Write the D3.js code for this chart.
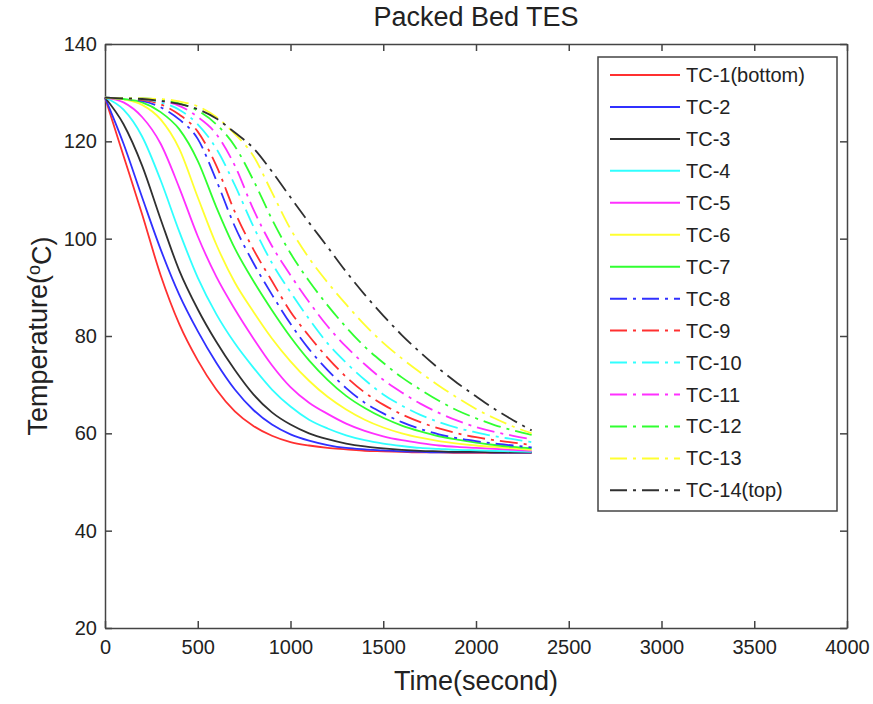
<!DOCTYPE html>
<html>
<head>
<meta charset="utf-8">
<script src="https://cdn.jsdelivr.net/npm/d3@7"></script>
<style>
  body { margin: 0; background: #fff; }
  text { font-family: "Liberation Sans", Arial, sans-serif; fill: #222; }
  .axis path, .axis line { stroke: #444; stroke-width: 1.5; }
</style>
</head>
<body>
<div class="canvas"></div>
<script>
// time samples (s)
const times = [0,100,200,300,400,500,600,700,800,900,1000,1100,1200,1300,1400,1500,1600,1700,1800,1900,2000,2100,2200,2300]

// thermocouple readings (deg C), bottom to top
const tc1  = [129,117,105,92.5,82.5,75,69,64.5,61.5,59.5,58.2,57.5,57,56.7,56.4,56.3,56.2,56.1,56.1,56,56,56,56,56]
const tc2  = [129,119.5,108.5,97.8,88.5,81,74.5,69,64.8,61.8,59.8,58.5,57.6,57,56.7,56.5,56.3,56.2,56.1,56.1,56.1,56.05,56.05,56.05]
const tc3  = [129,123.5,115,104,93.5,85.5,78.8,73,68,64.3,61.8,60,58.8,57.9,57.3,56.9,56.6,56.4,56.3,56.2,56.2,56.1,56.1,56.1]
const tc4  = [129,126.5,121,112,101.5,92,84.5,78.5,73.5,69,65.5,62.8,61,59.6,58.6,57.9,57.4,57,56.8,56.6,56.5,56.4,56.3,56.2]
const tc5  = [129,128,125,119.5,110.5,100.5,92.2,85.5,79.5,74,69.5,66.3,64,62,60.5,59.4,58.6,58,57.5,57.2,57,56.8,56.6,56.4]
const tc6  = [129,128.6,127.5,124.5,118.5,108.5,98.8,91,85,79.5,74.8,70.8,67.5,64.9,62.8,61.2,60,59.1,58.4,57.9,57.5,57.2,56.9,56.6]
const tc7  = [129,128.7,128,126,122.5,116,106.5,98,91.3,85.3,79.8,75,71,67.7,65.2,63.2,61.6,60.4,59.4,58.7,58.1,57.6,57.2,56.9]
const tc8  = [129,128.8,128.3,127,124.5,120.5,112,102.5,95,88.5,82.5,77.3,73,69.3,66.3,64.1,62.3,60.9,59.8,59,58.4,57.9,57.5,57.1]
const tc9  = [129,128.8,128.5,127.6,125.5,122,115,105.5,97.8,91.3,85,80,75.5,71.6,68.4,65.9,63.9,62.3,61,60,59.2,58.6,58.1,57.6]
const tc10 = [129,128.8,128.7,128,126.5,123.5,118.5,111,102.5,95,89,83.5,78.5,74.5,71,68,65.7,63.8,62.3,61.1,60.2,59.4,58.8,58.2]
const tc11 = [129,128.8,128.8,128.3,127.3,125,121.5,115,106,98.5,92.5,87,82,77.8,74.2,71,68.4,66.1,64.2,62.6,61.3,60.3,59.5,58.8]
const tc12 = [129,128.8,128.8,128.6,127.8,126.3,123.5,119,112,104,97,91.3,86.3,81.8,77.8,74.5,71.5,69,66.7,64.7,63.1,61.7,60.6,59.7]
const tc13 = [129,128.8,128.8,128.7,128.2,127.2,125,121.5,117,109.5,102,96,91,86.5,82.3,78.6,75.4,72.5,69.8,67.3,65,63.1,61.4,60]
const tc14 = [129,128.8,128.7,128.3,127.7,126.6,124.7,121.8,118.6,113.8,108.5,103.3,98.3,93.2,88.5,84.2,80.2,76.6,73.3,70.3,67.6,65,62.7,60.6]

const seriesNames = ["TC-1(bottom)","TC-2","TC-3","TC-4","TC-5","TC-6","TC-7","TC-8","TC-9","TC-10","TC-11","TC-12","TC-13","TC-14(top)"]
const xTicks = [0,500,1000,1500,2000,2500,3000,3500,4000]
const yTicks = [20,40,60,80,100,120,140]

// styles
const colors = ["#ff3030","#3030ff","#303030","#30ffff","#ff30ff","#ffff30","#30ff30",
                "#3030ff","#ff3030","#30ffff","#ff30ff","#30ff30","#ffff30","#303030"]
const dashed = [false,false,false,false,false,false,false,true,true,true,true,true,true,true]

const allTemps = [tc1,tc2,tc3,tc4,tc5,tc6,tc7,tc8,tc9,tc10,tc11,tc12,tc13,tc14]
const data = seriesNames.map((name, i) => ({
    name: name,
    color: colors[i],
    dashed: dashed[i],
    values: times.map((t, j) => ({t: t, temp: allTemps[i][j]}))
}))

const width = 873, height = 704
const margin = {top: 44, right: 26, bottom: 76, left: 105}
const graphWidth = width - margin.left - margin.right
const graphHeight = height - margin.top - margin.bottom

const svg = d3.select(".canvas")
    .append("svg")
    .attr("width", width)
    .attr("height", height)

const graph = svg.append("g")
    .attr("transform", `translate(${margin.left}, ${margin.top})`)

const xScale = d3.scaleLinear().domain([0, 4000]).range([0, graphWidth])
const yScale = d3.scaleLinear().domain([20, 140]).range([graphHeight, 0])

// boxed axes, ticks pointing in
const xAxis = d3.axisBottom(xScale).tickValues(xTicks).tickFormat(d3.format("d"))
    .tickSizeInner(-7).tickSizeOuter(0).tickPadding(12)
const yAxis = d3.axisLeft(yScale).tickValues(yTicks).tickFormat(d3.format("d"))
    .tickSizeInner(-7).tickSizeOuter(0).tickPadding(8)
const xTop = d3.axisTop(xScale).tickValues(xTicks).tickSizeInner(-7).tickSizeOuter(0).tickFormat("")
const yRight = d3.axisRight(yScale).tickValues(yTicks).tickSizeInner(-7).tickSizeOuter(0).tickFormat("")

graph.append("g").attr("class", "axis").attr("transform", `translate(0, ${graphHeight})`).call(xAxis)
graph.append("g").attr("class", "axis").call(yAxis)
graph.append("g").attr("class", "axis").call(xTop)
graph.append("g").attr("class", "axis").attr("transform", `translate(${graphWidth}, 0)`).call(yRight)

graph.selectAll(".axis text")
    .style("font-size", "20px")
    .attr("fill", "#222")

// lines
const lineGenerator = d3.line()
    .x(d => xScale(d.t))
    .y(d => yScale(d.temp))
    .curve(d3.curveMonotoneX)

graph.selectAll(".tc-line")
    .data(data)
    .enter()
    .append("path")
    .attr("class", "tc-line")
    .attr("d", d => lineGenerator(d.values))
    .attr("fill", "none")
    .attr("stroke", d => d.color)
    .attr("stroke-width", 1.8)
    .attr("stroke-dasharray", d => d.dashed ? "18,6,3,6" : null)

// title and axis labels
svg.append("text")
    .attr("x", margin.left + graphWidth / 2)
    .attr("y", 26)
    .attr("text-anchor", "middle")
    .style("font-size", "27px")
    .text("Packed Bed TES")

svg.append("text")
    .attr("x", margin.left + graphWidth / 2)
    .attr("y", 690)
    .attr("text-anchor", "middle")
    .style("font-size", "27px")
    .text("Time(second)")

const yLabel = svg.append("text")
    .attr("transform", `translate(47, ${margin.top + graphHeight / 2}) rotate(-90)`)
    .attr("text-anchor", "middle")
    .style("font-size", "27px")
yLabel.append("tspan").text("Temperature(")
yLabel.append("tspan").attr("dy", "-0.4em").style("font-size", "18px").text("o")
yLabel.append("tspan").attr("dy", "0.4em").text("C)")

// legend
const legend = svg.append("g").attr("transform", "translate(598, 57)")
legend.append("rect")
    .attr("width", 239)
    .attr("height", 454)
    .attr("fill", "#fff")
    .attr("stroke", "#444")
    .attr("stroke-width", 1.5)

const legendItem = legend.selectAll(".legend-item")
    .data(data)
    .enter()
    .append("g")
    .attr("class", "legend-item")
    .attr("transform", (d, i) => `translate(0, ${18 + i * 31.95})`)

legendItem.append("line")
    .attr("x1", 12).attr("x2", 82)
    .attr("stroke", d => d.color)
    .attr("stroke-width", 2)
    .attr("stroke-dasharray", d => d.dashed ? "17,6,3,6" : null)

legendItem.append("text")
    .attr("x", 88)
    .attr("dy", "0.35em")
    .style("font-size", "20px")
    .text(d => d.name)
</script>
</body>
</html>
